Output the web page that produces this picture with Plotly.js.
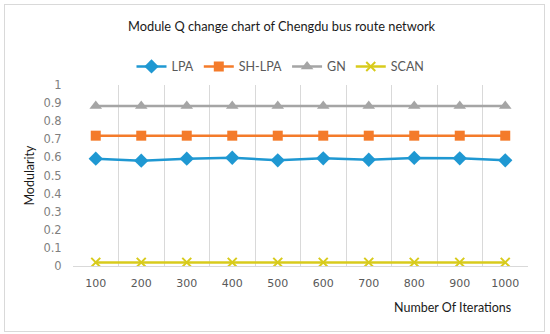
<!DOCTYPE html>
<html>
<head>
<meta charset="utf-8">
<script src="https://cdn.plot.ly/plotly-3.0.1.min.js"></script>
<style>
html,body{margin:0;padding:0;background:#fff;}
#wrap{position:relative;width:550px;height:334px;}
#chart{width:550px;height:334px;}
#frame{position:absolute;left:4px;top:4px;width:539px;height:326px;border:1px solid #d9d9d9;pointer-events:none;}
</style>
</head>
<body>
<div id="wrap"><div id="chart"></div><div id="frame"></div></div>
<script>
var iterations = ["100","200","300","400","500","600","700","800","900","1000"];
var lpa   = [0.593,0.582,0.593,0.598,0.584,0.595,0.587,0.597,0.595,0.584];
var shlpa = [0.72,0.72,0.72,0.72,0.72,0.72,0.72,0.72,0.72,0.72];
var gn    = [0.884,0.884,0.884,0.884,0.884,0.884,0.884,0.884,0.884,0.884];
var scan  = [0.02,0.02,0.02,0.02,0.02,0.02,0.02,0.02,0.02,0.02];
var yTicks = [0,0.1,0.2,0.3,0.4,0.5,0.6,0.7,0.8,0.9,1];
var yTickText = ["0","0.1","0.2","0.3","0.4","0.5","0.6","0.7","0.8","0.9","1"];

function tr(name, y, color, symbol, size){
  return {x: iterations, y: y, name: name, type: 'scatter', mode: 'lines+markers',
    line: {color: color, width: 2.5},
    marker: {color: color, symbol: symbol, size: size, line: {color: color, width: symbol==='x-thin'?2:0}}};
}
var data = [
  tr('LPA', lpa, '#1f98d2', 'diamond', 11),
  tr('SH-LPA', shlpa, '#f47b2a', 'square', 10),
  tr('GN', gn, '#a5a5a5', 'triangle-up', 11),
  tr('SCAN', scan, '#d8cb1c', 'x-thin', 9)
];
var layout = {
  width: 550, height: 334,
  margin: {l: 73, r: 22, t: 85, b: 68},
  paper_bgcolor: '#fff', plot_bgcolor: '#fff',
  font: {family: 'Lato, "Open Sans", sans-serif', color: '#000'},
  title: {text: 'Module Q change chart of Chengdu bus route network', x: 0.512, xanchor: 'center', y: 0.92, yanchor: 'middle',
          font: {size: 12.8, color: '#1a1a1a', family: 'Lato, "Open Sans", sans-serif'}},
  showlegend: true,
  legend: {orientation: 'h', x: 0.51, xanchor: 'center', xref: 'container', y: 0.80, yanchor: 'middle', yref: 'container',
           font: {size: 12.5, color: '#595959'}, itemwidth: 30, tracegroupgap: 0, traceorder: 'normal'},
  xaxis: {type: 'category', tickson: 'boundaries', showgrid: true, gridcolor: '#d9d9d9', gridwidth: 1,
          showline: true, linecolor: '#d9d9d9', ticks: '', ticklabelstandoff: 7, zeroline: false,
          tickfont: {family: '"DejaVu Sans"', size: 11, color: '#595959'}, range: [-0.5, 9.5]},
  yaxis: {range: [0, 1], tickvals: yTicks, ticktext: yTickText, showgrid: false, zeroline: false,
          showline: false, ticks: 'outside', ticklen: 8, tickcolor: 'rgba(0,0,0,0)',
          tickfont: {family: '"DejaVu Sans"', size: 11.5, color: '#7f7f7f'},
          title: {text: 'Modularity', standoff: 6, font: {size: 12.5, color: '#1a1a1a'}}},
  annotations: [{text: 'Number Of Iterations', xref: 'paper', yref: 'paper', x: 0.967, xanchor: 'right', y: -0.232, yanchor: 'middle',
                 showarrow: false, font: {size: 12.5, color: '#1a1a1a'}}]
};
Plotly.newPlot('chart', data, layout, {displayModeBar: false, staticPlot: true});
</script>
</body>
</html>
